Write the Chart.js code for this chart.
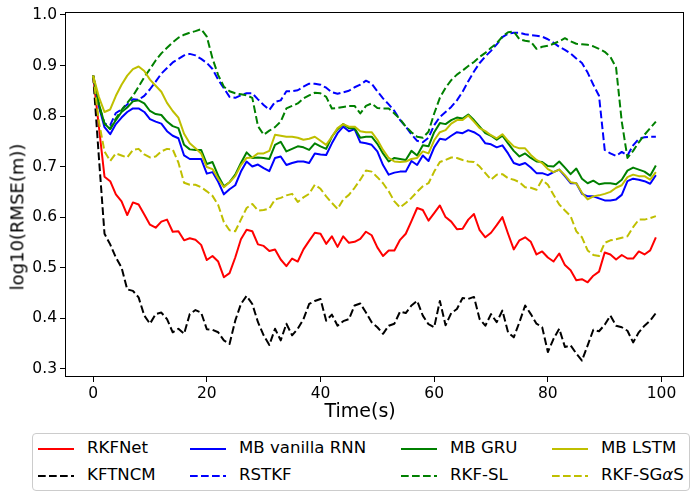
<!DOCTYPE html>
<html>
<head>
<meta charset="utf-8">
<script src="https://cdn.jsdelivr.net/npm/chart.js@4.4.1/dist/chart.umd.min.js"></script>
<style>
  body { margin: 0; background: #fff; }
  #wrap { position: relative; width: 699px; height: 498px; font-family: "DejaVu Sans", sans-serif; }
  #chart { position: absolute; left: 0; top: 0; }
  .axis-title { position: absolute; font-size: 19px; color: #000; white-space: nowrap; line-height: 1; }
  #legend {
    position: absolute; left: 32px; top: 433px; width: 658px; height: 58px;
    border: 1px solid #cccccc; border-radius: 4px; background: #fff; box-sizing: border-box;
  }
  .item { position: absolute; font-size: 16.6px; line-height: 1; white-space: nowrap; color: #000; }
</style>
</head>
<body>
<div id="wrap">
  <canvas id="chart" width="699" height="498"></canvas>
  <div class="axis-title" id="xTitle">Time(s)</div>
  <div class="axis-title" id="yTitle">log10(RMSE(m))</div>
  <div id="legend"></div>
</div>
<script>
// time steps 0..99
const timeSteps = Array.from({ length: 100 }, (_, i) => i);
const xTicks = [0, 20, 40, 60, 80, 100];
const yTicks = [0.3, 0.4, 0.5, 0.6, 0.7, 0.8, 0.9, 1.0];

const rkfnet = [
  0.880, 0.780, 0.680, 0.671, 0.645, 0.631, 0.604, 0.629, 0.625, 0.605,
  0.585, 0.579, 0.591, 0.595, 0.571, 0.572, 0.554, 0.558, 0.555, 0.545,
  0.515, 0.523, 0.512, 0.481, 0.489, 0.520, 0.556, 0.575, 0.572, 0.546,
  0.543, 0.533, 0.536, 0.516, 0.503, 0.518, 0.512, 0.536, 0.553, 0.569,
  0.567, 0.547, 0.562, 0.541, 0.562, 0.549, 0.551, 0.557, 0.571, 0.564,
  0.540, 0.523, 0.534, 0.534, 0.555, 0.567, 0.592, 0.618, 0.614, 0.593,
  0.608, 0.623, 0.600, 0.591, 0.576, 0.577, 0.595, 0.606, 0.574, 0.560,
  0.569, 0.584, 0.600, 0.567, 0.536, 0.554, 0.560, 0.551, 0.526, 0.532,
  0.520, 0.512, 0.528, 0.505, 0.495, 0.475, 0.477, 0.471, 0.484, 0.492,
  0.530, 0.526, 0.516, 0.525, 0.518, 0.518, 0.532, 0.526, 0.534, 0.560
];

const kftncm = [
  0.880, 0.720, 0.567, 0.546, 0.520, 0.500, 0.457, 0.454, 0.441, 0.405,
  0.389, 0.408, 0.411, 0.398, 0.372, 0.379, 0.369, 0.408, 0.416, 0.411,
  0.378, 0.377, 0.372, 0.356, 0.349, 0.395, 0.428, 0.444, 0.428, 0.392,
  0.366, 0.347, 0.379, 0.356, 0.389, 0.366, 0.379, 0.398, 0.428, 0.434,
  0.438, 0.395, 0.407, 0.385, 0.394, 0.398, 0.425, 0.429, 0.411, 0.392,
  0.382, 0.369, 0.385, 0.389, 0.413, 0.410, 0.425, 0.434, 0.405, 0.388,
  0.382, 0.434, 0.386, 0.410, 0.418, 0.440, 0.438, 0.442, 0.398, 0.385,
  0.408, 0.392, 0.415, 0.372, 0.362, 0.392, 0.425, 0.408, 0.389, 0.382,
  0.333, 0.359, 0.379, 0.343, 0.346, 0.330, 0.316, 0.346, 0.377, 0.374,
  0.387, 0.405, 0.385, 0.382, 0.375, 0.352, 0.372, 0.385, 0.395, 0.410
];

const mbRnn = [
  0.880, 0.820, 0.778, 0.764, 0.784, 0.797, 0.808, 0.815, 0.815, 0.808,
  0.794, 0.789, 0.785, 0.770, 0.761, 0.756, 0.722, 0.715, 0.715, 0.715,
  0.686, 0.689, 0.670, 0.645, 0.655, 0.663, 0.690, 0.710, 0.700, 0.704,
  0.697, 0.691, 0.717, 0.720, 0.703, 0.707, 0.710, 0.710, 0.707, 0.726,
  0.724, 0.723, 0.746, 0.766, 0.779, 0.770, 0.774, 0.748, 0.746, 0.743,
  0.730, 0.703, 0.684, 0.688, 0.690, 0.690, 0.711, 0.703, 0.722, 0.711,
  0.738, 0.755, 0.753, 0.761, 0.768, 0.766, 0.772, 0.768, 0.761, 0.746,
  0.744, 0.738, 0.742, 0.726, 0.707, 0.703, 0.707, 0.698, 0.687, 0.687,
  0.683, 0.689, 0.694, 0.681, 0.667, 0.667, 0.646, 0.641, 0.641, 0.637,
  0.633, 0.633, 0.635, 0.644, 0.671, 0.676, 0.674, 0.671, 0.666, 0.683
];

const rstkf = [
  0.880, 0.820, 0.785, 0.782, 0.806, 0.813, 0.823, 0.833, 0.832, 0.840,
  0.853, 0.868, 0.884, 0.895, 0.906, 0.913, 0.920, 0.923, 0.920, 0.913,
  0.905, 0.893, 0.872, 0.855, 0.838, 0.836, 0.841, 0.845, 0.845, 0.833,
  0.822, 0.812, 0.828, 0.831, 0.849, 0.849, 0.851, 0.858, 0.864, 0.864,
  0.862, 0.856, 0.847, 0.844, 0.847, 0.850, 0.857, 0.862, 0.870, 0.864,
  0.849, 0.835, 0.823, 0.810, 0.792, 0.779, 0.764, 0.751, 0.748, 0.757,
  0.782, 0.798, 0.808, 0.818, 0.831, 0.848, 0.869, 0.888, 0.905, 0.918,
  0.929, 0.942, 0.956, 0.963, 0.965, 0.965, 0.962, 0.960, 0.959, 0.957,
  0.952, 0.945, 0.937, 0.931, 0.924, 0.914, 0.905, 0.886, 0.862, 0.840,
  0.733, 0.726, 0.721, 0.729, 0.722, 0.742, 0.755, 0.758, 0.759, 0.759
];

const mbGru = [
  0.880, 0.825, 0.785, 0.774, 0.792, 0.808, 0.817, 0.829, 0.831, 0.825,
  0.810, 0.804, 0.802, 0.789, 0.780, 0.776, 0.743, 0.734, 0.733, 0.733,
  0.705, 0.709, 0.682, 0.661, 0.669, 0.684, 0.707, 0.728, 0.717, 0.718,
  0.717, 0.715, 0.743, 0.749, 0.730, 0.735, 0.740, 0.738, 0.733, 0.746,
  0.740, 0.735, 0.759, 0.774, 0.784, 0.776, 0.776, 0.757, 0.759, 0.759,
  0.745, 0.726, 0.710, 0.717, 0.715, 0.713, 0.731, 0.722, 0.742, 0.740,
  0.768, 0.786, 0.784, 0.792, 0.797, 0.795, 0.803, 0.792, 0.779, 0.766,
  0.761, 0.753, 0.761, 0.746, 0.731, 0.720, 0.726, 0.717, 0.710, 0.709,
  0.701, 0.700, 0.710, 0.698, 0.685, 0.696, 0.676, 0.667, 0.672, 0.665,
  0.667, 0.667, 0.665, 0.674, 0.692, 0.698, 0.694, 0.690, 0.682, 0.702
];

const rkfSl = [
  0.880, 0.822, 0.785, 0.775, 0.795, 0.812, 0.826, 0.840, 0.858, 0.877,
  0.893, 0.910, 0.924, 0.935, 0.946, 0.955, 0.961, 0.965, 0.968, 0.972,
  0.957, 0.914, 0.881, 0.858, 0.849, 0.845, 0.843, 0.841, 0.836, 0.780,
  0.763, 0.771, 0.778, 0.789, 0.815, 0.820, 0.825, 0.835, 0.841, 0.846,
  0.845, 0.838, 0.815, 0.816, 0.818, 0.820, 0.820, 0.805, 0.820, 0.825,
  0.816, 0.815, 0.815, 0.805, 0.794, 0.779, 0.768, 0.759, 0.757, 0.769,
  0.805, 0.836, 0.856, 0.871, 0.882, 0.890, 0.899, 0.907, 0.917, 0.925,
  0.935, 0.944, 0.957, 0.966, 0.967, 0.952, 0.949, 0.947, 0.933, 0.937,
  0.939, 0.943, 0.948, 0.954, 0.948, 0.943, 0.942, 0.941, 0.938, 0.933,
  0.927, 0.917, 0.896, 0.789, 0.717, 0.731, 0.748, 0.763, 0.776, 0.789
];

const mbLstm = [
  0.880, 0.838, 0.808, 0.813, 0.840, 0.862, 0.880, 0.893, 0.898, 0.889,
  0.872, 0.860, 0.848, 0.826, 0.810, 0.797, 0.765, 0.746, 0.736, 0.726,
  0.699, 0.695, 0.676, 0.659, 0.669, 0.681, 0.703, 0.717, 0.718, 0.726,
  0.726, 0.731, 0.763, 0.761, 0.759, 0.759, 0.757, 0.753, 0.755, 0.759,
  0.751, 0.743, 0.759, 0.776, 0.784, 0.779, 0.779, 0.770, 0.768, 0.768,
  0.753, 0.733, 0.717, 0.710, 0.709, 0.710, 0.715, 0.717, 0.730, 0.726,
  0.752, 0.768, 0.772, 0.785, 0.792, 0.792, 0.801, 0.789, 0.776, 0.770,
  0.762, 0.756, 0.764, 0.751, 0.740, 0.736, 0.736, 0.723, 0.713, 0.707,
  0.695, 0.689, 0.694, 0.683, 0.669, 0.667, 0.648, 0.635, 0.641, 0.643,
  0.646, 0.650, 0.658, 0.663, 0.679, 0.684, 0.681, 0.681, 0.674, 0.689
];

const rkfSgas = [
  0.880, 0.790, 0.730, 0.711, 0.726, 0.722, 0.718, 0.733, 0.735, 0.724,
  0.718, 0.720, 0.730, 0.735, 0.734, 0.708, 0.668, 0.664, 0.664, 0.659,
  0.651, 0.642, 0.624, 0.590, 0.574, 0.572, 0.595, 0.618, 0.626, 0.613,
  0.614, 0.617, 0.635, 0.638, 0.643, 0.646, 0.630, 0.639, 0.646, 0.664,
  0.656, 0.641, 0.628, 0.616, 0.635, 0.644, 0.658, 0.674, 0.692, 0.690,
  0.679, 0.667, 0.651, 0.631, 0.619, 0.628, 0.638, 0.650, 0.661, 0.667,
  0.690, 0.709, 0.713, 0.718, 0.717, 0.713, 0.710, 0.709, 0.700, 0.687,
  0.674, 0.684, 0.685, 0.677, 0.674, 0.669, 0.659, 0.658, 0.654, 0.674,
  0.664, 0.644, 0.625, 0.613, 0.602, 0.572, 0.560, 0.534, 0.525, 0.523,
  0.549, 0.554, 0.556, 0.559, 0.562, 0.580, 0.595, 0.595, 0.598, 0.602
];

const DASH = [7.7, 3.3];

// plotting order (later ones are drawn on top)
const series = [
  { label: "RKFNet", values: rkfnet, color: "#ff0000", dashed: false },
  { label: "KFTNCM", values: kftncm, color: "#000000", dashed: true },
  { label: "MB vanilla RNN", values: mbRnn, color: "#0000ff", dashed: false },
  { label: "RSTKF", values: rstkf, color: "#0000ff", dashed: true },
  { label: "MB GRU", values: mbGru, color: "#008000", dashed: false },
  { label: "RKF-SL", values: rkfSl, color: "#008000", dashed: true },
  { label: "MB LSTM", values: mbLstm, color: "#bfbf00", dashed: false },
  { label: "RKF-SG<i>α</i>S", values: rkfSgas, color: "#bfbf00", dashed: true },
];

const datasets = series.map((s, idx) => ({
  label: s.label.replace(/<\/?i>/g, ""),
  data: s.values.map((v, i) => ({ x: timeSteps[i], y: v })),
  borderColor: s.color,
  borderWidth: 2,
  borderDash: s.dashed ? DASH : [],
  borderCapStyle: "butt",
  borderJoinStyle: "round",
  pointRadius: 0,
  fill: false,
  tension: 0,
  order: series.length - idx,
}));

const tickFont = { family: "DejaVu Sans", size: 15.5 };

// frame around the plot area (all four spines)
const framePlugin = {
  id: "frame",
  afterDatasetsDraw(chart) {
    const { ctx, chartArea } = chart;
    ctx.save();
    ctx.strokeStyle = "#000";
    ctx.lineWidth = 1;
    ctx.strokeRect(
      Math.round(chartArea.left) + 0.5,
      Math.round(chartArea.top) + 0.5,
      Math.round(chartArea.right - chartArea.left) - 1,
      Math.round(chartArea.bottom - chartArea.top) - 1
    );
    ctx.restore();
  },
};

new Chart(document.getElementById("chart"), {
  type: "line",
  data: { datasets },
  options: {
    responsive: false,
    animation: false,
    layout: { padding: { top: 10, right: 15, left: 0, bottom: 0 } },
    plugins: { legend: { display: false }, tooltip: { enabled: false } },
    scales: {
      x: {
        type: "linear",
        min: -4.95,
        max: 103.95,
        afterBuildTicks: (scale) => {
          scale.ticks = xTicks.map((v) => ({ value: v }));
        },
        afterFit: (scale) => {
          scale.height = 121;
        },
        ticks: {
          font: tickFont,
          color: "#000",
          padding: 3,
          autoSkip: false,
          maxRotation: 0,
          callback: (v) => String(v),
        },
        grid: { drawOnChartArea: false, tickLength: 5, color: "#000" },
        border: { display: false },
      },
      y: {
        type: "linear",
        min: 0.2835,
        max: 1.0053,
        afterBuildTicks: (scale) => {
          scale.ticks = yTicks.map((v) => ({ value: v }));
        },
        afterFit: (scale) => {
          scale.width = 65;
        },
        ticks: {
          font: tickFont,
          color: "#000",
          padding: 3,
          autoSkip: false,
          callback: (v) => v.toFixed(1),
        },
        grid: { drawOnChartArea: false, tickLength: 5, color: "#000" },
        border: { display: false },
      },
    },
  },
  plugins: [framePlugin],
});

// axis titles
const xTitle = document.getElementById("xTitle");
xTitle.style.left = 360 - xTitle.offsetWidth / 2 + "px";
xTitle.style.top = 410 - xTitle.offsetHeight / 2 + "px";

const yTitle = document.getElementById("yTitle");
yTitle.style.fontSize = "18px";
yTitle.style.left = 17 - yTitle.offsetWidth / 2 + "px";
yTitle.style.top = 217 - yTitle.offsetHeight / 2 + "px";
yTitle.style.transform = "rotate(-90deg)";

// legend, laid out in 4 columns like the reference
const legendOrder = [0, 2, 4, 6, 1, 3, 5, 7];
const sampleX = [5, 157, 368, 519];
const textX = [54, 206, 417, 568];
const rowY = [14.5, 41.8];
const legend = document.getElementById("legend");
legendOrder.forEach((sIdx, pos) => {
  const s = series[sIdx];
  const col = pos % 4;
  const row = Math.floor(pos / 4);
  const line = document.createElementNS("http://www.w3.org/2000/svg", "svg");
  line.setAttribute("width", "36");
  line.setAttribute("height", "4");
  line.style.position = "absolute";
  line.style.left = sampleX[col] + "px";
  line.style.top = rowY[row] - 2 + "px";
  line.innerHTML = `<line x1="0" y1="2" x2="36" y2="2" stroke="${s.color}" stroke-width="2"
    ${s.dashed ? `stroke-dasharray="${DASH.join(",")}"` : ""}/>`;
  legend.appendChild(line);

  const text = document.createElement("div");
  text.className = "item";
  text.innerHTML = s.label;
  legend.appendChild(text);
  text.style.left = textX[col] + "px";
  text.style.top = rowY[row] - text.offsetHeight / 2 + "px";
});
</script>
</body>
</html>
